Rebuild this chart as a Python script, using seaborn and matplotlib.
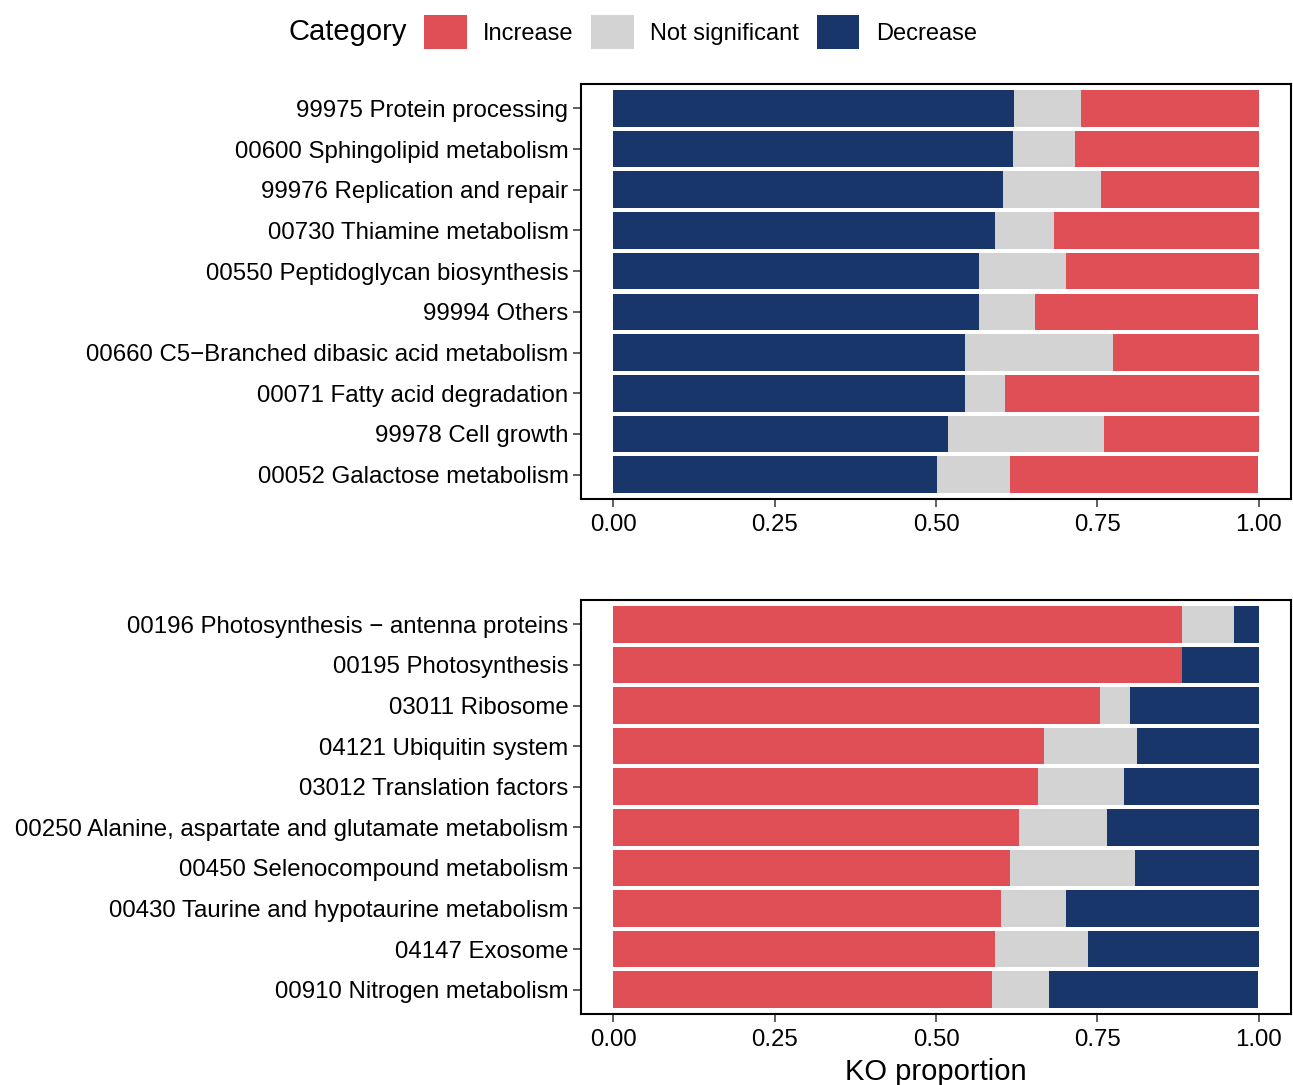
import matplotlib
matplotlib.use('Agg')
import matplotlib.pyplot as plt
import numpy as np
import seaborn as sns
from matplotlib.patches import Patch

# Data
top_labels = ['99975 Protein processing', '00600 Sphingolipid metabolism',
              '99976 Replication and repair', '00730 Thiamine metabolism',
              '00550 Peptidoglycan biosynthesis', '99994 Others',
              '00660 C5\u2212Branched dibasic acid metabolism',
              '00071 Fatty acid degradation', '99978 Cell growth',
              '00052 Galactose metabolism']
top_decrease = [0.621, 0.620, 0.604, 0.592, 0.567, 0.566, 0.545, 0.545, 0.518, 0.501]
top_ns = [0.104, 0.096, 0.151, 0.091, 0.134, 0.088, 0.229, 0.062, 0.242, 0.114]
top_increase = [0.275, 0.284, 0.245, 0.317, 0.299, 0.345, 0.226, 0.393, 0.240, 0.384]

bottom_labels = ['00196 Photosynthesis \u2212 antenna proteins', '00195 Photosynthesis',
                 '03011 Ribosome', '04121 Ubiquitin system', '03012 Translation factors',
                 '00250 Alanine, aspartate and glutamate metabolism',
                 '00450 Selenocompound metabolism',
                 '00430 Taurine and hypotaurine metabolism', '04147 Exosome',
                 '00910 Nitrogen metabolism']
bottom_increase = [0.881, 0.881, 0.754, 0.667, 0.658, 0.628, 0.615, 0.601, 0.592, 0.587]
bottom_ns = [0.080, 0.0, 0.047, 0.144, 0.133, 0.137, 0.193, 0.100, 0.143, 0.088]
bottom_decrease = [0.039, 0.119, 0.199, 0.189, 0.209, 0.235, 0.192, 0.299, 0.265, 0.324]

categories = ['Increase', 'Not significant', 'Decrease']
colors = {'Increase': '#E04E56', 'Not significant': '#D3D3D3', 'Decrease': '#18366A'}

sns.set_style('white')
plt.rcParams['font.family'] = ['Liberation Sans', 'DejaVu Sans']
plt.rcParams['text.color'] = 'black'
plt.rcParams['axes.labelcolor'] = 'black'
plt.rcParams['xtick.color'] = 'black'
plt.rcParams['ytick.color'] = 'black'

fig = plt.figure(figsize=(12.93, 10.85), dpi=100)
ax_top = fig.add_axes([581 / 1293, 1 - 499 / 1085, 710 / 1293, 415 / 1085])
ax_bot = fig.add_axes([581 / 1293, 1 - 1014 / 1085, 710 / 1293, 414 / 1085])


def stacked(ax, labels, parts, names):
    # draw back to front with cumulative widths so segments stack
    cum = np.cumsum(np.array(parts), axis=0)
    for i in range(len(parts) - 1, -1, -1):
        sns.barplot(x=cum[i], y=labels, color=colors[names[i]], orient='h',
                    width=0.9, saturation=1, errorbar=None, linewidth=0, ax=ax)
    ax.set_xlim(-0.05, 1.05)
    ax.set_ylim(len(labels) - 0.4, -0.6)
    ax.set_xticks([0, 0.25, 0.5, 0.75, 1.0])
    ax.set_xticklabels(['0.00', '0.25', '0.50', '0.75', '1.00'])
    ax.set_ylabel('')
    ax.set_xlabel('')
    ax.tick_params(axis='both', labelsize=17.3, length=5.5, width=1.1, color='#333333',
                   labelcolor='black', direction='out', pad=3.5, bottom=True, left=True)
    ax.tick_params(axis='x', pad=5.5)
    for s in ax.spines.values():
        s.set_visible(True)
        s.set_color('black')
        s.set_linewidth(1.5)


stacked(ax_top, top_labels, [top_decrease, top_ns, top_increase],
        ['Decrease', 'Not significant', 'Increase'])
stacked(ax_bot, bottom_labels, [bottom_increase, bottom_ns, bottom_decrease],
        ['Increase', 'Not significant', 'Decrease'])
ax_bot.set_xlabel('KO proportion', fontsize=21, labelpad=5, color='black')

# legend across the top
fig.text(289 / 1293, 1 - 32 / 1085, 'Category', fontsize=21, ha='left', va='center',
         color='black')
handles = [Patch(facecolor=colors[c], edgecolor='none', label=c) for c in categories]
fig.legend(handles=handles, loc='center left', bbox_to_anchor=(424 / 1293, 1 - 32 / 1085),
           ncol=3, frameon=False, fontsize=17, handlelength=1.8, handleheight=1.8,
           handletextpad=0.7, columnspacing=0.75, borderpad=0, borderaxespad=0)

fig.savefig('out.png', dpi=100)
